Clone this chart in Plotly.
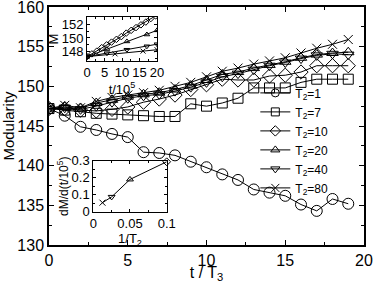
import plotly.graph_objects as go

t = list(range(20))
m_T1 = [147.2, 146.3, 144.9, 144.5, 144.0, 143.6, 141.7, 141.6, 141.3, 140.5,
        139.8, 138.9, 138.2, 137.0, 136.6, 136.2, 135.1, 134.3, 135.8, 135.2]
m_T7 = [147.2, 147.0, 146.8, 146.6, 146.5, 146.4, 146.3, 146.2, 146.2, 147.8,
        147.5, 147.9, 148.5, 149.8, 149.8, 149.8, 150.5, 150.9, 150.9, 150.9]
m_T10 = [147.2, 147.2, 147.0, 146.9, 147.1, 147.4, 148.0, 148.4, 148.9, 149.6,
         150.2, 150.9, 150.8, 150.8, 151.3, 151.4, 151.8, 152.6, 152.6, 152.6]
m_T20 = [147.2, 147.4, 147.2, 147.9, 148.3, 148.7, 149.0, 149.2, 149.6, 150.1,
         150.8, 151.5, 151.8, 152.3, 152.7, 153.1, 153.6, 154.0, 154.2, 154.3]
m_T40 = [147.2, 147.3, 147.1, 147.5, 148.0, 148.5, 148.8, 149.0, 149.4, 149.9,
         150.5, 151.2, 151.6, 152.1, 152.6, 153.0, 153.5, 153.9, 154.1, 154.0]
m_T80 = [147.2, 147.6, 147.3, 148.1, 148.6, 148.9, 149.2, 149.5, 150.0, 150.5,
         151.2, 151.9, 152.3, 152.8, 153.2, 153.6, 154.2, 154.8, 155.3, 155.9]

# inset 1: M vs t/10^5
i1_t10 = [0, 1.4, 2.8, 4.2, 5.6, 7.0, 8.4, 9.8, 11.2, 12.6, 14.0, 15.4, 16.8, 18.2, 19.6]
i1_m10 = [147.3, 147.7, 148.1, 148.6, 149.0, 149.4, 149.8, 150.2, 150.7, 151.1, 151.5, 151.9, 152.3, 152.8, 153.2]
i1_t20 = [0, 5.7, 11.4, 17.1, 20]
i1_m20 = [147.3, 148.4, 149.5, 150.5, 151.1]
i1_t40 = [0, 5.7, 11.4, 17.1, 20]
i1_m40 = [147.3, 147.8, 148.3, 148.8, 149.1]
i1_t80 = [0, 8.0, 16.0, 20]
i1_m80 = [147.3, 147.7, 148.1, 148.3]

# inset 2: slope vs 1/T2
inv_T2 = [0.0125, 0.025, 0.05, 0.1]
slopes = [0.053, 0.087, 0.19, 0.294]
slope_symbols = ["x-thin-open", "triangle-down-open", "triangle-up-open", "diamond-open"]

series = [
    ("T<sub>2</sub>=1", m_T1, "circle-open", 11),
    ("T<sub>2</sub>=7", m_T7, "square-open", 10),
    ("T<sub>2</sub>=10", m_T10, "diamond-open", 11),
    ("T<sub>2</sub>=20", m_T20, "triangle-up-open", 10),
    ("T<sub>2</sub>=40", m_T40, "triangle-down-open", 10),
    ("T<sub>2</sub>=80", m_T80, "x-thin-open", 9),
]

fig = go.Figure()
for name, y, sym, sz in series:
    fig.add_trace(go.Scatter(
        x=t, y=y, name=name, mode="lines+markers", showlegend=False,
        line=dict(color="black", width=1),
        marker=dict(symbol=sym, size=sz, color="black",
                    line=dict(color="black", width=1)),
        xaxis="x", yaxis="y"))
# legend entries (smaller symbols, as in the reference key)
for name, y, sym, sz in series:
    fig.add_trace(go.Scatter(
        x=[None], y=[None], name=name, mode="lines+markers",
        line=dict(color="black", width=1),
        marker=dict(symbol=sym, size=8, color="black",
                    line=dict(color="black", width=1)),
        xaxis="x", yaxis="y"))

ins1 = [(i1_t10, i1_m10, "diamond-open"), (i1_t20, i1_m20, "triangle-up-open"),
        (i1_t40, i1_m40, "triangle-down-open"), (i1_t80, i1_m80, "x-thin-open")]
for xx, yy, sym in ins1:
    fig.add_trace(go.Scatter(
        x=xx, y=yy, mode="lines+markers", showlegend=False,
        line=dict(color="black", width=1),
        marker=dict(symbol=sym, size=5, color="black",
                    line=dict(color="black", width=1)),
        xaxis="x2", yaxis="y2", cliponaxis=True))

fig.add_trace(go.Scatter(
    x=inv_T2, y=slopes, mode="lines+markers", showlegend=False,
    line=dict(color="black", width=1),
    marker=dict(symbol=slope_symbols, size=6, color="black",
                line=dict(color="black", width=1)),
    xaxis="x3", yaxis="y3", cliponaxis=False))

axis_common = dict(showline=True, linecolor="black", linewidth=1.5, mirror="ticks",
                   ticks="inside", tickcolor="black", showgrid=False, zeroline=False,
                   automargin=False, ticklabeloverflow="allow")

fig.update_layout(
    width=374, height=283,
    margin=dict(l=49, r=10, t=7, b=38),
    paper_bgcolor="white", plot_bgcolor="white",
    font=dict(family="Liberation Sans, Arial, sans-serif", color="black"),
    xaxis=dict(axis_common, range=[0, 20], dtick=5, ticklen=5,
               minor=dict(dtick=2.5, ticks="inside", ticklen=3, tickcolor="black"),
               tickfont=dict(size=16),
               title=dict(text="t / T<sub>3</sub>", font=dict(size=16), standoff=4)),
    yaxis=dict(axis_common, range=[130, 160], dtick=5, ticklen=5,
               minor=dict(dtick=2.5, ticks="inside", ticklen=3, tickcolor="black"),
               tickfont=dict(size=16),
               title=dict(text="Modularity", font=dict(size=15), standoff=4)),
    xaxis2=dict(axis_common, domain=[0.1206, 0.343], anchor="y2", range=[0, 20],
                dtick=5, ticklen=3, linewidth=1,
                minor=dict(dtick=2.5, ticks="inside", ticklen=2, tickcolor="black"),
                tickfont=dict(size=13),
                title=dict(text="t/10<sup>5</sup>", font=dict(size=13), standoff=0)),
    yaxis2=dict(axis_common, domain=[0.774, 0.957], anchor="x2", range=[146.7, 153.0],
                dtick=2, ticklen=3, linewidth=1,
                minor=dict(dtick=1, ticks="inside", ticklen=2, tickcolor="black"),
                tickfont=dict(size=13),
                title=dict(text="M", font=dict(size=13), standoff=0)),
    xaxis3=dict(axis_common, domain=[0.1406, 0.3736], anchor="y3", range=[0, 0.1],
                tickvals=[0, 0.05, 0.1], ticktext=["0", "0.05", "0.1"], ticklen=3, linewidth=1,
                minor=dict(dtick=0.025, ticks="inside", ticklen=2, tickcolor="black"),
                tickfont=dict(size=13),
                title=dict(text="1/T<sub>2</sub>", font=dict(size=13), standoff=0)),
    yaxis3=dict(axis_common, domain=[0.14, 0.354], anchor="x3", range=[0, 0.3],
                tickvals=[0, 0.1, 0.2, 0.3], ticktext=["0", "0.1", "0.2", "0.3"],
                ticklen=3, linewidth=1,
                minor=dict(dtick=0.05, ticks="inside", ticklen=2, tickcolor="black"),
                tickfont=dict(size=13),
                title=dict(text="dM/d(t/10<sup>5</sup>)", font=dict(size=12), standoff=0)),
    legend=dict(x=0.655, y=0.70, xanchor="left", yanchor="top",
                bgcolor="rgba(0,0,0,0)", font=dict(size=12),
                tracegroupgap=0, itemwidth=30),
)

fig.write_html("out.html", config={"displayModeBar": False},
               post_script="document.body.style.margin='0px';document.body.style.overflow='hidden';")
